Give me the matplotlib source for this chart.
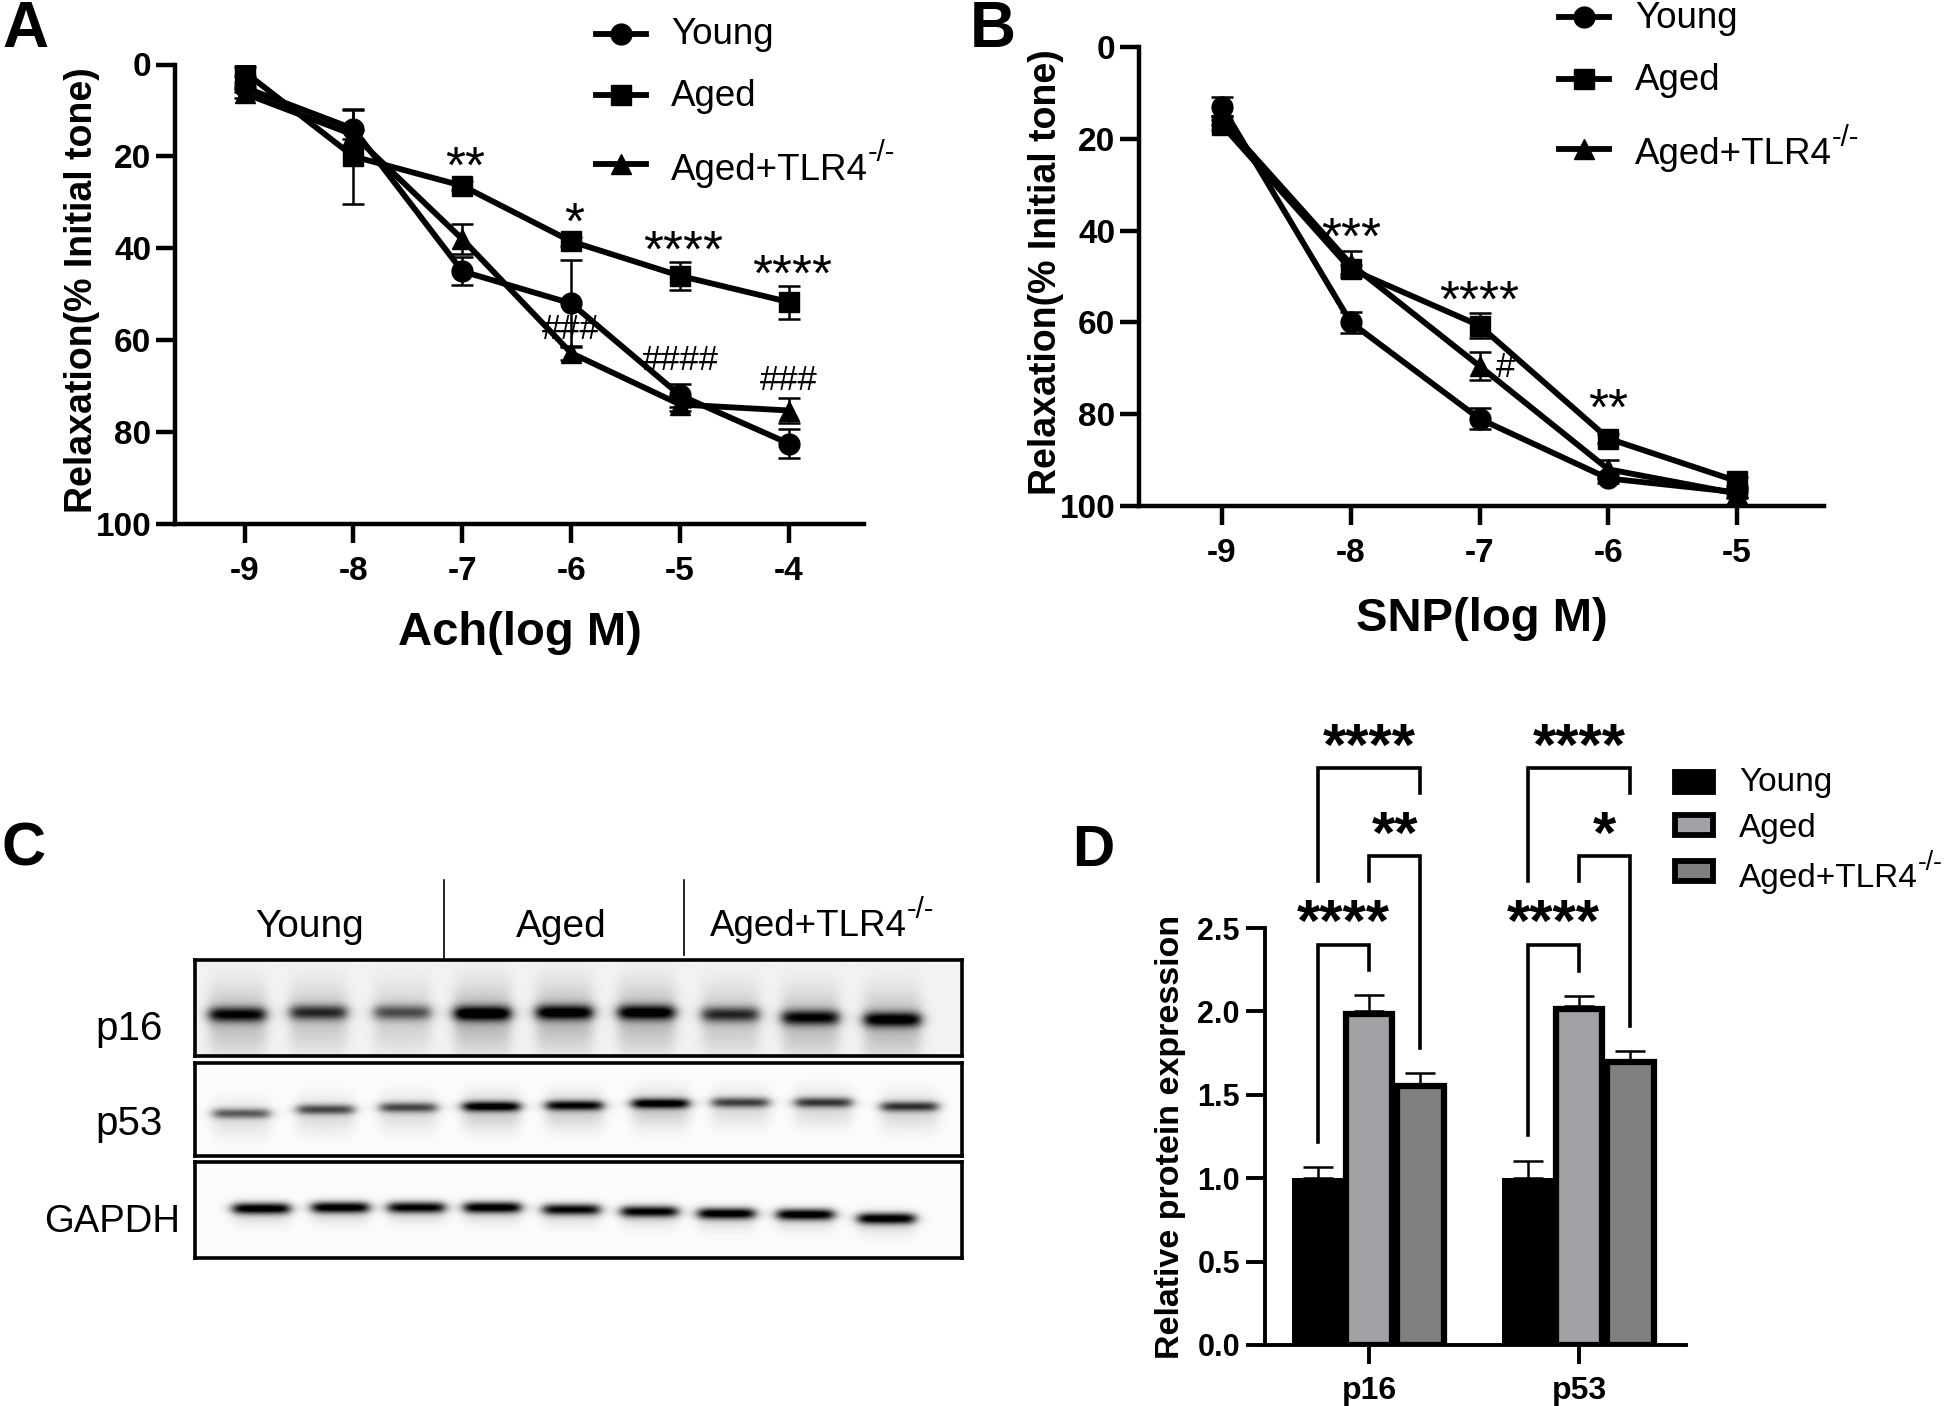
import numpy as np
import matplotlib
matplotlib.use("Agg")
import matplotlib.pyplot as plt
from matplotlib.patches import Rectangle

plt.rcParams['font.family'] = ['Liberation Sans', 'DejaVu Sans']
plt.rcParams['axes.unicode_minus'] = False

W, H = 1946, 1406

# Panel A
ach_x = [-9, -8, -7, -6, -5, -4]
ach_young = [5, 14, 45, 52, 72, 82.5]
ach_young_err = [1, 4, 3, 9.5, 2.5, 3.2]
ach_aged = [1.6, 20, 26.4, 38.5, 46, 51.7]
ach_aged_err = [1, 10.3, 1, 1, 3, 3.6]
ach_tlr = [6.3, 15.3, 38, 62.8, 74, 75.3]
ach_tlr_err = [1, 1, 3.3, 1.5, 1.5, 2.8]

# Panel B
snp_x = [-9, -8, -7, -6, -5]
snp_young = [13, 60, 81, 94, 97]
snp_young_err = [2, 2.3, 2.3, 1, 1]
snp_aged = [17, 48.4, 60.7, 85.3, 94.6]
snp_aged_err = [1, 1, 2.8, 1, 1]
snp_tlr = [16, 47.3, 69.5, 92, 97.3]
snp_tlr_err = [1, 2.8, 3, 2, 1]

# Panel C, band centres in picture pixels and darkness 0-1
lane_p16_x = [237, 318, 402, 482, 564, 646, 730, 810, 892]
lane_p16_y = [1014, 1012, 1012, 1013, 1012, 1012, 1014, 1017, 1019]
lane_p16_dark = [0.82, 0.68, 0.55, 0.95, 0.9, 0.9, 0.68, 0.82, 0.88]
lane_p53_x = [241, 325, 408, 491, 574, 660, 740, 823, 909]
lane_p53_y = [1113, 1109, 1107, 1106, 1105, 1103, 1102, 1102, 1106]
lane_p53_dark = [0.55, 0.62, 0.62, 0.95, 0.88, 0.95, 0.65, 0.68, 0.7]
lane_gapdh_x = [261, 340, 416, 492, 571, 649, 726, 805, 886]
lane_gapdh_y = [1208, 1207, 1207, 1207, 1209, 1211, 1213, 1214, 1218]
lane_gapdh_dark = [1, 1, 0.95, 1, 0.92, 0.95, 1, 1, 1]

# Panel D
groups = ["p16", "p53"]
young = [1.0, 1.0]
young_err = [0.07, 0.105]
aged = [1.985, 2.015]
aged_err = [0.10, 0.065]
tlr4 = [1.55, 1.695]
tlr4_err = [0.065, 0.05]


def make_ax(left, top, right, bottom):
    return fig.add_axes([left / W, 1 - bottom / H, (right - left) / W, (bottom - top) / H])


def curve_panel(ax, x, series, xlabel, xpad):
    for y, err, marker, ms in series:
        ax.errorbar(x, y, yerr=err, color="black", lw=4.2, marker=marker, ms=ms,
                    elinewidth=1.8, capsize=8, capthick=1.8)
    ax.set_ylim(100, 0)
    ax.set_yticks([0, 20, 40, 60, 80, 100])
    ax.set_xticks(x)
    for s in ["top", "right"]:
        ax.spines[s].set_visible(False)
    for s in ["left", "bottom"]:
        ax.spines[s].set_linewidth(3.2)
    ax.tick_params(width=3.2, length=14, labelsize=24)
    ax.tick_params(axis="x", pad=9)
    ax.tick_params(axis="y", pad=3)
    for lab in ax.get_xticklabels() + ax.get_yticklabels():
        lab.set_fontweight("bold")
    ax.set_xlabel(xlabel, fontsize=34, fontweight="bold", labelpad=xpad)
    ax.set_ylabel("Relaxation(% Initial tone)", fontsize=27, fontweight="bold", labelpad=-3,
                  y=0.51)


def tlr_label(x, y, size, ha="left"):
    # superscript as its own small text hung on the end of the main label
    t = over.text(x, y, "Aged+TLR4", fontsize=size, ha=ha, va="center")
    over.annotate("-/-", xy=(1, 0.58), xycoords=t, fontsize=size * 0.8, ha="left", va="bottom")


fig = plt.figure(figsize=(W / 100, H / 100), dpi=100)

# A
axA = make_ax(175, 64.5, 864, 524)
px = (789 - 244.5) / 5
axA.set_xlim(-9 - (244.5 - 175) / px, -4 + (864 - 789) / px)
curve_panel(axA, ach_x, [(ach_young, ach_young_err, "o", 15),
                         (ach_aged, ach_aged_err, "s", 14.5),
                         (ach_tlr, ach_tlr_err, "^", 15)], "Ach(log M)", 17)
for x, y, s in [(-7, 25.8, "**"), (-6, 38, "*"), (-5, 44, "****"), (-4, 49.2, "****")]:
    axA.text(x + 0.03, y, s, fontsize=37, ha="center", va="baseline")
for x, y, s in [(-6, 59.7, "###"), (-5, 66.4, "####"), (-4, 70.9, "###")]:
    axA.text(x + 0.0, y, s, fontsize=25, ha="center", va="baseline")

# B
axB = make_ax(1139, 47, 1824, 506)
px = (1737 - 1222) / 4
axB.set_xlim(-9 - (1222 - 1139) / px, -5 + (1824 - 1737) / px)
curve_panel(axB, snp_x, [(snp_young, snp_young_err, "o", 15),
                         (snp_aged, snp_aged_err, "s", 14.5),
                         (snp_tlr, snp_tlr_err, "^", 15)], "SNP(log M)", 20)
for x, y, s in [(-8, 45, "***"), (-7, 58.7, "****"), (-6, 82.4, "**")]:
    axB.text(x, y, s, fontsize=37, ha="center", va="baseline")
axB.text(-6.8, 72, "#", fontsize=25, ha="center", va="baseline")

# C
blots = [(195, 960, 962, 1056, lane_p16_x, lane_p16_y, lane_p16_dark, 0.95, 7.5, 0.28, 32),
         (195, 1063, 962, 1156, lane_p53_x, lane_p53_y, lane_p53_dark, 0.985, 5, 0.2, 18),
         (195, 1162, 962, 1258, lane_gapdh_x, lane_gapdh_y, lane_gapdh_dark, 0.985, 5.6, 0.12, 12)]
for left, top, right, bottom, bx, by, bd, bg, sig, smear, smear_sig in blots:
    ax = make_ax(left, top, right, bottom)
    xx, yy = np.meshgrid(np.arange(left, right), np.arange(top, bottom))
    img = np.zeros(xx.shape)
    for cx, cy, d in zip(bx, by, bd):
        across = 0.5 * (np.tanh((xx - cx + 28) / 7) - np.tanh((xx - cx - 28) / 7))
        band = d * np.exp(-((yy - cy) / sig) ** 2)
        below = smear * d * np.exp(-((yy - cy - 5) / smear_sig) ** 2)
        img += across * (band + below)
    ax.imshow(bg - np.clip(img, 0, 1) * bg, cmap="gray", vmin=0, vmax=1,
              extent=(left, right, bottom, top), aspect="auto", interpolation="bilinear")
    ax.set_xticks([])
    ax.set_yticks([])
    for s in ax.spines.values():
        s.set_linewidth(2.6)

# D
axD = make_ax(1265, 928, 1686, 1345)
axD.set_xlim((1265 - 1369) / 210, (1686 - 1369) / 210)
axD.set_ylim(0, 2.5)
pos = np.arange(len(groups))
off = 0.245
w = 0.222
edge = dict(edgecolor="black", linewidth=4.5, joinstyle="miter")
axD.bar(pos - off, young, w + 0.02, color="black", zorder=3)
axD.bar(pos, aged, w, color="#A0A0A5", zorder=3, **edge)
axD.bar(pos + off, tlr4, w, color="#808080", zorder=3, **edge)
for dx, vals, errs, top_off in [(-off, young, young_err, 0),
                                (0, aged, aged_err, 0.015),
                                (off, tlr4, tlr4_err, 0.015)]:
    axD.errorbar(pos + dx, np.array(vals) + top_off, yerr=[np.zeros(2), errs], fmt="none",
                 ecolor="black", elinewidth=1.8, capsize=11, capthick=1.8, zorder=2)
for s in ["top", "right"]:
    axD.spines[s].set_visible(False)
for s in ["left", "bottom"]:
    axD.spines[s].set_linewidth(2.8)
axD.set_xticks(pos)
axD.set_xticklabels(groups)
axD.set_yticks([0, 0.5, 1.0, 1.5, 2.0, 2.5])
axD.tick_params(axis="y", width=2.8, length=14, labelsize=22, pad=4)
axD.tick_params(axis="x", width=2.8, length=14, labelsize=23, pad=8)
for lab in axD.get_xticklabels() + axD.get_yticklabels():
    lab.set_fontweight("bold")
axD.set_ylabel("Relative protein expression", fontsize=24.5, fontweight="bold", labelpad=8)

# brackets: group, left x, right x, top, left end, right end, text
brackets = [(0, -off, off, 3.46, 2.78, 3.31, "****"),
            (0, 0, off, 2.93, 2.78, 1.78, "**"),
            (0, -off, 0, 2.40, 1.22, 2.25, "****"),
            (1, -off, off, 3.46, 2.78, 3.31, "****"),
            (1, 0, off, 2.93, 2.78, 1.91, "*"),
            (1, -off, 0, 2.40, 1.26, 2.24, "****")]
for g, x1, x2, top, y1, y2, s in brackets:
    axD.plot([g + x1, g + x1, g + x2, g + x2], [y1, top, top, y2], color="black", lw=2.6,
             clip_on=False, solid_joinstyle="miter", zorder=4)
    axD.text(g + (x1 + x2) / 2, top + 0.02, s, fontsize=43, fontweight="bold", ha="center",
             va="baseline", clip_on=False)

# Full picture overlay for letters, legends and blot labels
over = fig.add_axes([0, 0, 1, 1])
over.set_xlim(0, W)
over.set_ylim(H, 0)
over.axis("off")
over.patch.set_alpha(0)

for x, y, s, size in [(2, 47, "A", 46), (970, 47, "B", 46), (2, 866, "C", 44), (1072, 866, "D", 42)]:
    over.text(x, y, s, fontsize=size, fontweight="bold", va="baseline")

# legends of A and B: line y, text y
for lx, tx, ys, tys in [(596, 671, [34, 95, 164], [35, 97, 170]),
                        (1559, 1635, [17, 79, 149], [19, 80, 155])]:
    for y, marker, ms in zip(ys, ["o", "s", "^"], [15, 14.5, 15]):
        over.plot([lx, lx + 50], [y, y], color="black", lw=4.2)
        over.plot([lx + 25], [y], marker=marker, ms=ms, color="black")
    over.text(tx, tys[0], "Young", fontsize=26.5, va="center")
    over.text(tx, tys[1], "Aged", fontsize=26.5, va="center")
    tlr_label(tx, tys[2], 26.5)

for y, fc in [(782, "black"), (825, "#A0A0A5"), (871, "#808080")]:
    over.add_patch(Rectangle((1675, y - 10), 38, 20, facecolor=fc, edgecolor="black", linewidth=4.2))
over.text(1739, 783, "Young", fontsize=24, va="center")
over.text(1739, 828, "Aged", fontsize=24, va="center")
tlr_label(1739, 878, 24)

over.plot([444, 444], [880, 959], color="black", lw=1.2)
over.plot([684, 684], [880, 955], color="black", lw=1.2)
over.text(310, 927, "Young", fontsize=28, ha="center", va="center")
over.text(561, 927, "Aged", fontsize=28, ha="center", va="center")
tlr_label(710, 927, 26.5)
over.text(95, 1029, "p16", fontsize=29, ha="left", va="center")
over.text(95, 1124, "p53", fontsize=29, ha="left", va="center")
over.text(44, 1222, "GAPDH", fontsize=27.5, ha="left", va="center")

fig.savefig("out.png", dpi=100)
